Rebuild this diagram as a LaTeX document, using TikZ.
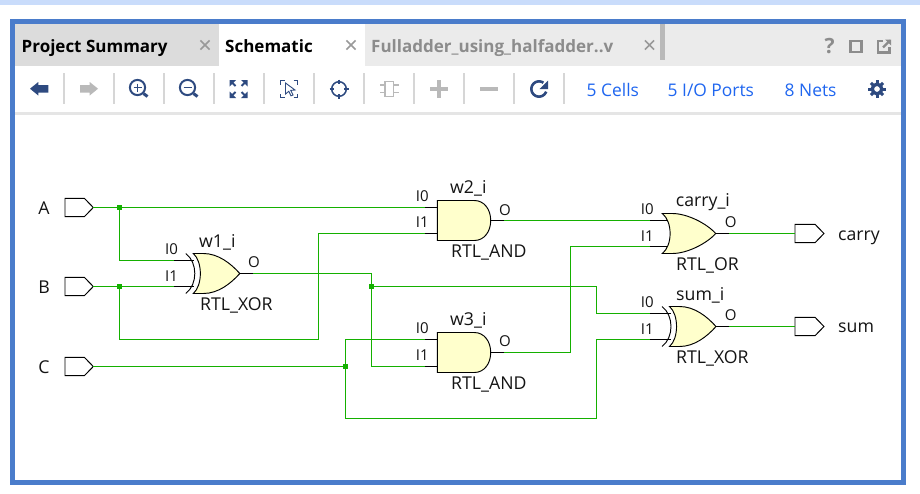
\documentclass[tikz,border=0pt]{standalone}
\usepackage{fontspec}
\setmainfont{Open Sans}
\usetikzlibrary{calc}
\definecolor{frameblue}{HTML}{4A7CCB}
\definecolor{band}{HTML}{C9DCFB}
\definecolor{tabgray}{HTML}{DCDCDC}
\definecolor{tabbar}{HTML}{EBEBEB}
\definecolor{wiregreen}{HTML}{14B000}
\definecolor{gatefill}{HTML}{FFFFCC}
\definecolor{icondark}{HTML}{2E4A80}
\definecolor{icongray}{HTML}{B9B9B9}
\definecolor{tabtext}{HTML}{8C8C8C}
\definecolor{linkblue}{HTML}{1F66F0}
\definecolor{sep}{HTML}{D6D6D6}
\tikzset{
  x=1pt,y=-1pt,
  wire/.style={draw=wiregreen,line width=1.3pt,line join=miter},
  pin/.style={draw=black,line width=1.2pt},
  gate/.style={draw=black,line width=0.95pt,fill=gatefill,line join=miter},
  portshape/.style={draw=black,line width=0.95pt,fill=white},
  dotnode/.style={fill=wiregreen,inner sep=0pt,minimum size=5.4pt,rectangle},
  lbl/.style={anchor=base west,inner sep=0pt,font=\fontsize{17.7}{19}\selectfont,text=black!92},
  pinlbl/.style={anchor=base west,inner sep=0pt,font=\fontsize{15}{16}\selectfont,text=black!92},
  tabtxt/.style={anchor=base west,inner sep=0pt,font=\fontsize{17}{19}\selectfont\bfseries},
  linktxt/.style={anchor=base west,inner sep=0pt,font=\fontsize{17.4}{19}\selectfont,text=linkblue},
  iconline/.style={draw=icondark,line width=2pt},
  closex/.style={draw=#1,line width=1.7pt},
  sepline/.style={draw=sep,line width=1.6pt},
}
\newcommand{\lowsep}{13}
\newcommand{\pinsOf}[5]{% name, x0, cy, left, right
  \coordinate (#1-I0p) at (#2,#3-13);
  \coordinate (#1-I1p) at (#2,#3+\lowsep);
  \coordinate (#1-I0) at (#2+#4,#3-13);
  \coordinate (#1-I1) at (#2+#4,#3+\lowsep);
  \coordinate (#1-O) at (#2+#5,#3);
}
\newcommand{\andgate}[3]{%
  \pinsOf{#1}{#2}{#3}{-12.3}{66.7}
  \draw[pin] (#1-I0) -- (#1-I0p);
  \draw[pin] (#1-I1) -- (#1-I1p);
  \draw[pin] (#2+50,#3) -- (#1-O);
  \draw[gate] (#2,#3-20) -- (#2+37,#3-20) .. controls (#2+47,#3-20) and (#2+53.4,#3-11) .. (#2+53.4,#3)
     .. controls (#2+53.4,#3+11) and (#2+47,#3+20) .. (#2+37,#3+20) -- (#2,#3+20) -- cycle;
}
\newcommand{\orbody}[4]{% x0, cy, len, notch
  \draw[gate] (#1,#2-20) -- (#1+10,#2-20) .. controls (#1+25,#2-20) and (#1+#3-9,#2-10) .. (#1+#3,#2)
     .. controls (#1+#3-9,#2+10) and (#1+25,#2+20) .. (#1+10,#2+20) -- (#1,#2+20)
     .. controls (#1+#4+1,#2+12) and (#1+#4+1,#2-12) .. (#1,#2-20) -- cycle;
}
\newcommand{\orgate}[3]{%
  \pinsOf{#1}{#2}{#3}{-12.3}{67}
  \draw[pin] (#1-I0) -- (#2+7,#3-13);
  \draw[pin] (#1-I1) -- (#2+7,#3+13);
  \draw[pin] (#2+50,#3) -- (#1-O);
  \orbody{#2}{#3}{53.4}{9.4}
}
\newcommand{\xorgate}[3]{%
  \pinsOf{#1}{#2}{#3}{-19.8}{59.6}
  \draw[pin] (#1-I0) -- (#2+1,#3-13);
  \draw[pin] (#1-I1) -- (#2+1,#3+13);
  \draw[pin] (#2+44,#3) -- (#1-O);
  \orbody{#2}{#3}{46.5}{8.4}
  \draw[draw=black,line width=0.95pt] (#2-7.5,#3-20) .. controls (#2+4.5,#3-11) and (#2+4.5,#3+11) .. (#2-7.5,#3+20);
}
\newcommand{\inport}[3]{%
  \draw[portshape] (65,#2-9.2) -- (84.3,#2-9.2) -- (93.3,#2) -- (84.3,#2+9.2) -- (65,#2+9.2) -- cycle;
  \coordinate (#1) at (93.3,#2);
  \node[lbl,anchor=base] (lbl#1) at (44,#3) {#1};
}
\newcommand{\outport}[3]{%
  \draw[portshape] (795,#2-9.2) -- (815,#2-9.2) -- (824,#2) -- (815,#2+9.2) -- (795,#2+9.2) -- cycle;
  \coordinate (#1) at (795,#2);
  \node[lbl] (lbl#1) at (838,#3) {#1};
}
\newcommand{\xmark}[3]{\draw[closex=#3] (#1-4.6,#2-4.6) -- (#1+4.6,#2+4.6) (#1-4.6,#2+4.6) -- (#1+4.6,#2-4.6);}
\newcommand{\toolsep}[1]{\draw[sepline] (#1,73) -- (#1,104);}
\begin{document}
\begin{tikzpicture}
\useasboundingbox (0,0) rectangle (920,493);
\fill[white] (0,0) rectangle (920,493);
\fill[band] (0,0) rectangle (920,5);
% frame and chrome
\fill[frameblue] (10,19) rectangle (906,485);
\fill[white] (15,24) rectangle (901,480);
\fill[tabbar] (15,24) rectangle (901,66);
\fill[tabgray] (15,24) rectangle (219,66);
\fill[white] (219,24) rectangle (365,66);
\fill[icongray] (659.5,24) rectangle (665,60);
\fill[black!10] (15,112) rectangle (901,115);
% tabs
\node[tabtxt,text=black] (tab1) at (21.5,52) {Project Summary};
\node[tabtxt,text=black] (tab2) at (225,52) {Schematic};
\node[tabtxt,text=tabtext] (tab3) at (371,52) {Fulladder\_using\_halfadder..v};
\xmark{205}{45}{gray!80}
\xmark{351}{45}{gray!80}
\xmark{649.5}{45}{gray!80}
% window buttons
\node[anchor=base,inner sep=0pt,font=\fontsize{21}{22}\selectfont\bfseries,text=tabtext] (qm) at (829.5,53.5) {?};
\draw[draw=tabtext,line width=2.4pt] (850.5,41) rectangle (861.5,52);
\draw[draw=tabtext,line width=2.2pt] (883,41) -- (878,41) -- (878,52.5) -- (889.5,52.5) -- (889.5,47);
\draw[draw=tabtext,line width=2.2pt] (883,47.5) -- (890,40.5);
\fill[tabtext] (885,39.5) -- (891,39.5) -- (891,45.5) -- cycle;
% toolbar separators
\foreach \sx in {64,114,164,214,264,314,364,414,464,514,564} {\toolsep{\sx}}
% back / forward
\fill[icondark] (30,88.7) -- (38.3,82) -- (38.3,85) -- (48.3,85) -- (48.3,92.7) -- (38.3,92.7) -- (38.3,95.5) -- cycle;
\fill[icongray] (98,88.7) -- (89.7,82) -- (89.7,85) -- (80,85) -- (80,92.7) -- (89.7,92.7) -- (89.7,95.5) -- cycle;
% zoom in / out
\draw[iconline] (137.5,87.5) circle (7.6);
\draw[draw=icondark,line width=1.6pt] (133.5,87.5) -- (141.5,87.5) (137.5,83.5) -- (137.5,91.5);
\draw[draw=icondark,line width=3pt] (143.5,93.5) -- (147.5,96.5);
\draw[iconline] (187.5,87.5) circle (7.6);
\draw[draw=icondark,line width=1.6pt] (183.5,87.5) -- (191.5,87.5);
\draw[draw=icondark,line width=3pt] (193.5,93.5) -- (197.5,96.5);
% fit
\foreach \sa/\sb in {1/1,1/-1,-1/1,-1/-1} {
  \fill[icondark] (238.5+\sa*9,89+\sb*9) -- (238.5+\sa*2.5,89+\sb*9) -- (238.5+\sa*9,89+\sb*2.5) -- cycle;
  \draw[draw=icondark,line width=1.9pt] (238.5+\sa*7,89+\sb*7) -- (238.5+\sa*3,89+\sb*3);
}
% select area
\foreach \sa/\sb in {1/1,1/-1,-1/1,-1/-1} {
  \draw[draw=icondark,line width=1.6pt] (289+\sa*4.5,89+\sb*8.5) -- (289+\sa*8.5,89+\sb*8.5) -- (289+\sa*8.5,89+\sb*4.5);
}
\draw[draw=icondark,line width=0.9pt,fill=white] (285.5,83) -- (295,90) -- (290.8,90.4) -- (293,95) -- (291,95.8) -- (288.8,91.3) -- (285.5,94) -- cycle;
% locate
\draw[draw=icondark,line width=1.5pt] (339,89) circle (7.3);
\draw[draw=icondark,line width=1.5pt] (339,79.5) -- (339,84) (339,94) -- (339,98.5) (329.5,89) -- (334,89) (344,89) -- (348.5,89);
% component
\draw[draw=icongray,line width=1.6pt] (385,81.5) rectangle (393.5,96.5);
\draw[draw=icongray,line width=1.6pt] (380,85) -- (385,85) (380,92.5) -- (385,92.5) (393.5,85) -- (398.5,85) (393.5,92.5) -- (398.5,92.5);
% plus / minus
\draw[draw=icongray,line width=4pt] (430,89) -- (448,89) (439,80) -- (439,98);
\draw[draw=icongray,line width=4pt] (480,89) -- (498,89);
% refresh
\draw[draw=icondark,line width=2.6pt] plot[domain=-55:-340,samples=40,smooth] ({539+7.6*cos(\x)},{89+7.6*sin(\x)});
\fill[icondark] (548,80.5) -- (548,89) -- (539.5,89) -- cycle;
% link text
\node[linktxt] (cells) at (586.5,96.5) {5 Cells};
\node[linktxt] (ports) at (667.5,96.5) {5 I/O Ports};
\node[linktxt] (nets) at (784.5,96.5) {8 Nets};
% gear
\draw[draw=icondark,line width=3.4pt] (877,89) circle (4.8);
\foreach \ga in {0,45,...,315} {
  \draw[draw=icondark,line width=3pt] ($(877,89)+(\ga:5.8)$) -- ($(877,89)+(\ga:8.6)$);
}
% ports
\inport{A}{207.5}{214}
\inport{B}{286.5}{293.5}
\inport{C}{366.5}{373.5}
\outport{carry}{233.5}{240}
\outport{sum}{326.5}{332.7}
% gates
\xorgate{w1}{193.3}{273.5}
\andgate{w2}{437.3}{220.5}
\renewcommand{\lowsep}{14}
\andgate{w3}{437.3}{352.5}
\renewcommand{\lowsep}{13}
\orgate{carry_g}{662.3}{233.5}
\xorgate{sum_g}{669.5}{326.5}
% junctions
\node[dotnode] (j1) at (119.5,207.5) {};
\node[dotnode] (j2) at (119.5,286.5) {};
\node[dotnode] (j3) at (371.5,286.5) {};
\node[dotnode] (j4) at (345.5,366.5) {};
% wires
\draw[wire] (A) -- (j1) -- (w2-I0);
\draw[wire] (j1) |- (w1-I0);
\draw[wire] (B) -- (j2) -- (w1-I1);
\draw[wire] (j2) -- (119.5,339.5) -- (318.5,339.5) -- (318.5,233.5) -- (w2-I1);
\draw[wire] (w1-O) -- (371.5,273.5) -- (j3) -- (371.5,366.5) -- (w3-I1);
\draw[wire] (j3) -- (596.5,286.5) -- (596.5,313.5) -- (sum_g-I0);
\draw[wire] (C) -- (j4);
\draw[wire] (j4) -- (345.5,339.5) -- (w3-I0);
\draw[wire] (j4) -- (345.5,418.5) -- (596.5,418.5) -- (596.5,339.5) -- (sum_g-I1);
\draw[wire] (w2-O) -- (carry_g-I0);
\draw[wire] (w3-O) -- (570.5,352.5) -- (570.5,246.5) -- (carry_g-I1);
\draw[wire] (carry_g-O) -- (carry);
\draw[wire] (sum_g-O) -- (sum);
% gate labels
\node[pinlbl] (t1a) at (165,254) {I0};
\node[pinlbl] (t1b) at (165,281) {I1};
\node[lbl] (t1c) at (199,247.7) {w1\_i};
\node[pinlbl] (t1d) at (248,267.7) {O};
\node[lbl] (t1e) at (200,310.7) {RTL\_XOR};
\node[pinlbl] (t2a) at (415.7,201) {I0};
\node[pinlbl] (t2b) at (415.7,227.7) {I1};
\node[lbl] (t2c) at (450,193.3) {w2\_i};
\node[pinlbl] (t2d) at (499,215) {O};
\node[lbl] (t2e) at (451,257.7) {RTL\_AND};
\node[pinlbl] (t3a) at (415.7,333) {I0};
\node[pinlbl] (t3b) at (415.7,360) {I1};
\node[lbl] (t3c) at (450,325.7) {w3\_i};
\node[pinlbl] (t3d) at (499,346.7) {O};
\node[lbl] (t3e) at (451,389.3) {RTL\_AND};
\node[pinlbl] (t4a) at (640.7,214.3) {I0};
\node[pinlbl] (t4b) at (640.7,241) {I1};
\node[lbl] (t4c) at (675.7,206.7) {carry\_i};
\node[pinlbl] (t4d) at (724.7,227.7) {O};
\node[lbl] (t4e) at (676,270.7) {RTL\_OR};
\node[pinlbl] (t5a) at (640.7,307.3) {I0};
\node[pinlbl] (t5b) at (640.7,334) {I1};
\node[lbl] (t5c) at (676,300) {sum\_i};
\node[pinlbl] (t5d) at (724.7,320.7) {O};
\node[lbl] (t5e) at (676,363.3) {RTL\_XOR};
\end{tikzpicture}
\end{document}
